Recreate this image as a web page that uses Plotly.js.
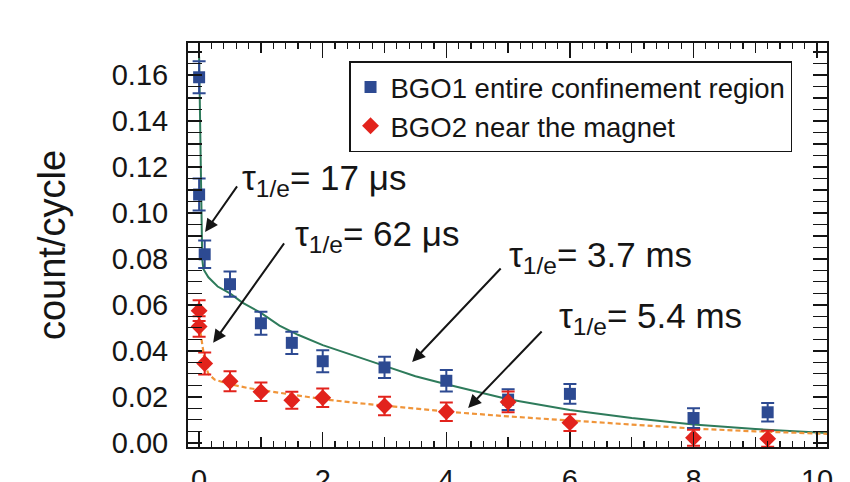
<!DOCTYPE html>
<html><head><meta charset="utf-8">
<script src="https://cdn.plot.ly/plotly-3.0.1.min.js"></script>
<style>html,body{margin:0;padding:0;background:#fff}#chart{width:850px;height:482px}</style>
</head><body><div id="chart"></div>
<script>
// Measured data (time in ms, counts per cycle)
const bgo1_t   = [0, 0, 0.09, 0.5, 1.0, 1.5, 2.0, 3.0, 4.0, 5.0, 6.0, 8.0, 9.2];
const bgo1_y   = [0.159, 0.108, 0.082, 0.069, 0.052, 0.0435, 0.0355, 0.0328, 0.027, 0.0188, 0.0213, 0.0108, 0.0133];
const bgo1_err = [0.007, 0.007, 0.006, 0.0055, 0.005, 0.0048, 0.0048, 0.0046, 0.0047, 0.0045, 0.0043, 0.0043, 0.004];

const bgo2_t   = [0, 0, 0.09, 0.5, 1.0, 1.5, 2.0, 3.0, 4.0, 5.0, 6.0, 8.0, 9.2];
const bgo2_y   = [0.0575, 0.0506, 0.0345, 0.0268, 0.0222, 0.0185, 0.0196, 0.016, 0.0135, 0.0178, 0.0088, 0.0022, 0.0018];
const bgo2_err = [0.0045, 0.0045, 0.0048, 0.0043, 0.004, 0.0037, 0.004, 0.004, 0.004, 0.0045, 0.0036, 0.0035, 0.0035];

// Fit curves
const fit1_t = [0.0, 0.02, 0.035, 0.05, 0.07, 0.15, 0.3, 0.5, 0.7, 1.0, 1.3, 1.6, 2.0, 2.4, 3.0, 3.5, 4.0, 5.0, 6.0, 7.0, 8.0, 9.0, 10.2];
const fit1_y = [0.168, 0.125, 0.095, 0.080, 0.0755, 0.072, 0.068, 0.065, 0.061, 0.0565, 0.051, 0.047, 0.0425, 0.039, 0.0335, 0.029, 0.0255, 0.019, 0.0143, 0.0108, 0.008, 0.006, 0.0042];

const fit2_t = [0.0, 0.03, 0.06, 0.1, 0.15, 0.25, 0.5, 0.8, 1.0, 1.5, 2.0, 2.5, 3.0, 4.0, 5.0, 6.0, 7.0, 8.0, 9.0, 10.2];
const fit2_y = [0.052, 0.046, 0.040, 0.034, 0.030, 0.0275, 0.0255, 0.0238, 0.023, 0.021, 0.019, 0.0175, 0.0161, 0.0136, 0.0115, 0.0097, 0.0078, 0.0062, 0.005, 0.0039];

const xMidTicks = [1, 3, 5, 7, 9];
const yTickVals = [0, 0.02, 0.04, 0.06, 0.08, 0.10, 0.12, 0.14, 0.16];
const yTickText = ['0.00', '0.02', '0.04', '0.06', '0.08', '0.10', '0.12', '0.14', '0.16'];

const labels = ['τ<sub>1/e</sub>= 17 μs', 'τ<sub>1/e</sub>= 62 μs', 'τ<sub>1/e</sub>= 3.7 ms', 'τ<sub>1/e</sub>= 5.4 ms'];

const BLUE = '#2d4a92', RED = '#e2231c', GREEN = '#2e7b5b', ORANGE = '#f0953a';
const FONT = 'Liberation Sans, Arial, sans-serif';
const INK = '#151515';

const traces = [
  {x: fit1_t, y: fit1_y, mode: 'lines', line: {color: GREEN, width: 2}, showlegend: false, hoverinfo: 'skip'},
  {x: fit2_t, y: fit2_y, mode: 'lines', line: {color: ORANGE, width: 2.2, dash: '5px,3px'}, showlegend: false, hoverinfo: 'skip'},
  {x: bgo1_t, y: bgo1_y, mode: 'markers', name: 'BGO1 entire confinement region',
   marker: {symbol: 'square', size: 12, color: BLUE},
   error_y: {type: 'data', array: bgo1_err, visible: true, color: BLUE, thickness: 2, width: 6.5}},
  {x: bgo2_t, y: bgo2_y, mode: 'markers', name: 'BGO2 near the magnet',
   marker: {symbol: 'diamond', size: 13, color: RED},
   error_y: {type: 'data', array: bgo2_err, visible: true, color: RED, thickness: 2, width: 6.5}},
  // invisible trace to activate the overlay axis carrying the odd-integer ticks
  {x: [0], y: [0], xaxis: 'x2', mode: 'markers', marker: {opacity: 0}, showlegend: false, hoverinfo: 'skip'}
];

const annText = (t, x, y) => ({text: t, x: x, y: y, xref: 'x', yref: 'y', xanchor: 'left', yanchor: 'middle',
  showarrow: false, font: {family: FONT, size: 35, color: INK}});
const annArrow = (hx, hy, tx, ty) => ({text: '', x: hx, y: hy, ax: tx, ay: ty, xref: 'x', yref: 'y', axref: 'x', ayref: 'y',
  showarrow: true, arrowhead: 2, arrowsize: 1.3, arrowwidth: 2, arrowcolor: INK});

const layout = {
  width: 850, height: 482,
  margin: {l: 188, r: 23, t: 43, b: 35},
  paper_bgcolor: '#fff', plot_bgcolor: '#fff',
  font: {family: FONT, color: INK},
  xaxis: {
    range: [-0.18, 10.16], tickmode: 'linear', tick0: 0, dtick: 2,
    ticks: 'inside', ticklen: 15, tickwidth: 1.5, tickcolor: INK,
    minor: {dtick: 0.2, ticks: 'inside', ticklen: 6, tickwidth: 1.2, tickcolor: INK},
    showline: true, linecolor: INK, linewidth: 2, mirror: 'allticks',
    showgrid: false, zeroline: false, ticklabelstandoff: 6,
    tickfont: {family: FONT, size: 29, color: INK}
  },
  xaxis2: {
    overlaying: 'x', anchor: 'y', side: 'bottom', range: [-0.18, 10.16],
    tickmode: 'array', tickvals: xMidTicks, ticks: 'inside', ticklen: 10, tickwidth: 1.5, tickcolor: INK,
    showticklabels: false, showline: true, linecolor: INK, linewidth: 2, mirror: 'allticks',
    showgrid: false, zeroline: false
  },
  yaxis: {
    range: [-0.0018, 0.1739], tickmode: 'array', tickvals: yTickVals, ticktext: yTickText,
    ticks: 'inside', ticklen: 14, tickwidth: 1.5, tickcolor: INK,
    minor: {dtick: 0.005, ticks: 'inside', ticklen: 9, tickwidth: 1.2, tickcolor: INK},
    showline: true, linecolor: INK, linewidth: 2, mirror: 'allticks',
    showgrid: false, zeroline: false, ticklabelstandoff: 12,
    tickfont: {family: FONT, size: 29, color: INK},
    title: {text: 'count/cycle', font: {family: FONT, size: 38, color: INK}, standoff: 34}
  },
  showlegend: true,
  legend: {
    x: 0.252, y: 0.955, xanchor: 'left', yanchor: 'top',
    bgcolor: '#fff', bordercolor: INK, borderwidth: 1.5,
    font: {family: FONT, size: 27.5, color: INK}, tracegroupgap: 0
  },
  annotations: [
    annText(labels[0], 0.66, 0.1143),
    annText(labels[1], 1.52, 0.0900),
    annText(labels[2], 4.98, 0.0809),
    annText(labels[3], 5.79, 0.0543),
    annArrow(0.097, 0.0917, 0.631, 0.1122),
    annArrow(0.227, 0.0435, 1.392, 0.0874),
    annArrow(3.447, 0.0352, 4.903, 0.0765),
    annArrow(4.353, 0.0152, 5.566, 0.0491)
  ]
};

Plotly.newPlot('chart', traces, layout, {staticPlot: true});
</script></body></html>
